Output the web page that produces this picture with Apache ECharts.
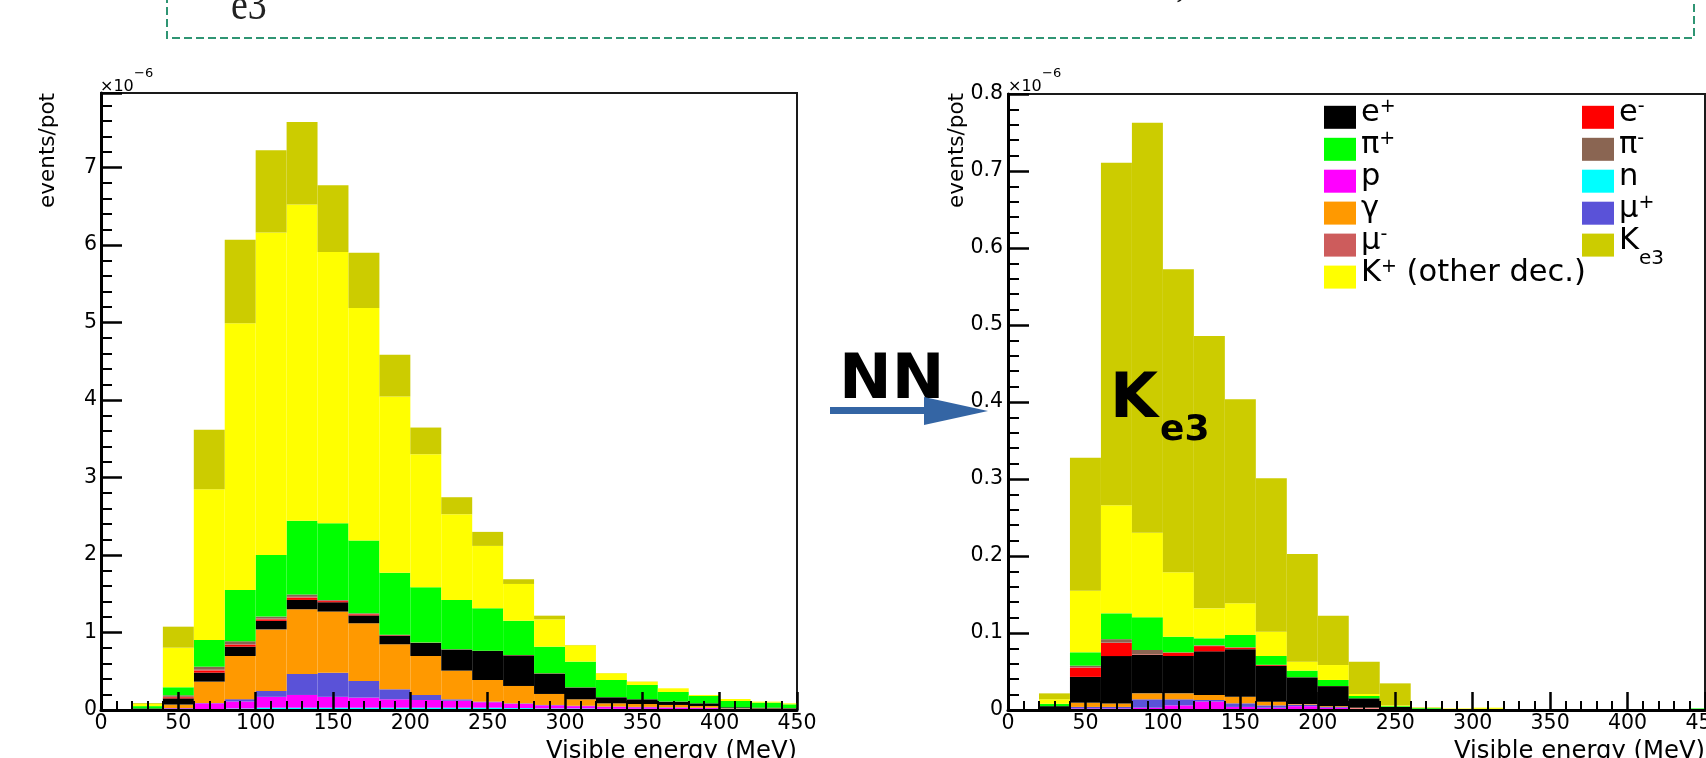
<!DOCTYPE html>
<html lang="en">
<head>
<meta charset="UTF-8">
<title>Visible energy before / after NN</title>
<script src="https://cdn.jsdelivr.net/npm/echarts@6/dist/echarts.min.js"></script>
</head>
<body style="margin:0;background:#fff">
<div id="main" style="width:1706px;height:758px"></div>
<script>
// histogram bins: low edge in MeV, 20 MeV wide (last bin is cut at 450)
var binLow = [0, 20, 40, 60, 80, 100, 120, 140, 160, 180, 200, 220, 240, 260, 280, 300, 320, 340, 360, 380, 400, 420, 440];
var binWidth = 20;

// stack order, bottom -> top
var species = ['n', 'p', 'μ+', 'γ', 'e+', 'e-', 'μ-', 'π-', 'π+', 'K+ (other dec.)', 'Ke3'];
var colors = ['#00ffff', '#ff00ff', '#5a52d8', '#ff9900', '#000000', '#ff0000', '#cd5c5c', '#8a6552', '#00ff00', '#ffff00', '#cccc00'];

// left plot (before NN), events/pot x 1e-6
var leftN   = [0, .005, .005, .01, .02, .03, .03, .03, .03, .03, .03, .03, .03, .025, .02, .02, .015, .015, .01, .01, .01, .008, .008];
var leftP   = [0, 0, .015, .076, .09, .14, .164, .14, .13, .108, .099, .09, .07, .055, .04, .03, .025, .02, .02, .015, .005, .004, .004];
var leftMuP = [0, 0, .005, .004, .03, .075, .271, .31, .214, .129, .065, .018, .008, .006, .005, .005, .005, .005, .005, .005, .005, .002, .002];
var leftGam = [0, .005, .045, .276, .557, .795, .835, .79, .745, .581, .503, .37, .279, .224, .142, .083, .041, .037, .03, .022, .005, .006, .005];
var leftEp  = [0, .01, .08, .116, .12, .11, .12, .12, .101, .112, .168, .272, .375, .395, .263, .152, .078, .061, .043, .034, .01, .01, .006];
var leftEm  = [0, 0, .015, .028, .023, .02, .03, .015, .015, .005, .003, .001, .002, .002, .002, .001, 0, 0, 0, 0, 0, 0, 0];
var leftMuM = [0, 0, .005, .01, .01, .01, .01, .005, .005, .003, .001, .001, .001, .001, .001, .001, 0, 0, 0, 0, 0, 0, 0];
var leftPiM = [0, 0, .02, .039, .037, .025, .03, .01, .008, .004, .001, .001, .001, .002, .001, .001, .002, .002, .002, .001, 0, 0, 0];
var leftPiP = [0, .03, .103, .345, .662, .795, .95, .99, .938, .8, .714, .637, .546, .443, .343, .331, .221, .183, .122, .094, .081, .065, .048];
var leftKo  = [0, .03, .511, 1.945, 3.441, 4.16, 4.08, 3.5, 2.999, 2.272, 1.716, 1.106, .805, .473, .353, .211, .087, .043, .048, .013, .026, .013, .013];
var leftKe3 = [0, .01, .271, .765, 1.077, 1.06, 1.065, .86, .715, .538, .344, .219, .181, .061, .047, .004, .002, .002, 0, 0, 0, 0, 0];

// right plot (after NN)
var rightN   = [0, .001, .001, .001, .001, .001, .001, .001, .001, .001, .001, .001, .001, .0005, 0, 0, 0, 0, 0, 0, 0, 0, 0];
var rightP   = [0, 0, .001, .001, .002, .005, .01, .003, .002, .004, .002, .001, 0, 0, 0, 0, 0, 0, 0, 0, 0, 0, 0];
var rightMuP = [0, 0, .002, .002, .0109, .0079, .002, .0047, .003, .002, .001, 0, 0, 0, 0, 0, 0, 0, 0, 0, 0, 0, 0];
var rightGam = [0, 0, .0055, .0045, .0077, .0077, .0065, .0086, .0048, .0008, .001, .001, 0, 0, 0, 0, 0, 0, 0, 0, 0, 0, 0];
var rightEp  = [0, .004, .0335, .0615, .0499, .0485, .0567, .0617, .0467, .0346, .026, .0122, .003, .001, 0, 0, 0, 0, 0, 0, 0, 0, 0];
var rightEm  = [0, 0, .012, .017, .0005, .0044, .0068, .002, .001, .0001, .0001, 0, 0, 0, 0, 0, 0, 0, 0, 0, 0, 0, 0];
var rightMuM = [0, 0, .0005, .0005, .0002, .0002, .0005, .0002, .0001, 0, 0, 0, 0, 0, 0, 0, 0, 0, 0, 0, 0, 0, 0];
var rightPiM = [0, 0, .0021, .0045, .0057, .0002, .0005, .0003, .0001, .0001, .0001, 0, 0, 0, 0, 0, 0, 0, 0, 0, 0, 0, 0];
var rightPiP = [0, .003, .0173, .0335, .0424, .0203, .0091, .0159, .0114, .0085, .0078, .003, .001, .001, .001, .0015, 0, 0, 0, 0, 0, 0, .002];
var rightKo  = [0, .006, .0801, .1403, .11, .0836, .0389, .0411, .0316, .0117, .0194, .0026, .001, .0005, .001, .0015, 0, 0, 0, 0, 0, 0, 0];
var rightKe3 = [0, .0076, .1727, .445, .5325, .3935, .3537, .265, .1992, .1398, .0641, .042, .0286, .0005, 0, 0, 0, 0, 0, 0, 0, 0, 0];

var leftValues = [leftN, leftP, leftMuP, leftGam, leftEp, leftEm, leftMuM, leftPiM, leftPiP, leftKo, leftKe3];
var rightValues = [rightN, rightP, rightMuP, rightGam, rightEp, rightEm, rightMuM, rightPiM, rightPiP, rightKo, rightKe3];

// legend columns (ROOT fills the 2-column legend row by row)
var legendCol1 = ['e+', 'π+', 'p', 'γ', 'μ-', 'K+ (other dec.)'];
var legendCol2 = ['e-', 'π-', 'n', 'μ+', 'Ke3'];
var legendText = {
  'e+': '{t|e}{u|+}', 'e-': '{t|e}{u|-}',
  'π+': '{t|π}{u|+}', 'π-': '{t|π}{u|-}',
  'p': '{t|p}', 'n': '{t|n}', 'γ': '{t|γ}',
  'μ+': '{t|μ}{u|+}', 'μ-': '{t|μ}{u|-}',
  'Ke3': '{t|K}{d|e3}',
  'K+ (other dec.)': '{t|K}{u|+}{t| (other dec.)}'
};

var FONT = 'DejaVu Sans';
var chart = echarts.init(document.getElementById('main'));

function renderBin(params, api) {
  var a = api.coord([api.value(0), api.value(3)]);
  var b = api.coord([api.value(1), api.value(2)]);
  var cs = params.coordSys;
  var rect = echarts.graphic.clipRectByRect(
    { x: a[0], y: a[1], width: b[0] - a[0], height: b[1] - a[1] },
    { x: cs.x, y: cs.y, width: cs.width, height: cs.height });
  return rect && { type: 'rect', shape: rect, style: api.style({ stroke: null }) };
}

function stackSeries(values, idx) {
  var base = binLow.map(function () { return 0; });
  return species.map(function (name, k) {
    var data = [];
    values[k].forEach(function (v, i) {
      if (v > 0) data.push([binLow[i], binLow[i] + binWidth, base[i], base[i] + v]);
      base[i] += v;
    });
    return {
      type: 'custom', name: name, xAxisIndex: idx, yAxisIndex: idx,
      renderItem: renderBin, encode: { x: [0, 1], y: [2, 3] },
      itemStyle: { color: colors[k] }, data: data, z: 2
    };
  });
}

function xAxisFor(idx) {
  return {
    type: 'value', gridIndex: idx, min: 0, max: 450, interval: 50, z: 10,
    axisLine: { show: true, onZero: false, lineStyle: { color: '#000', width: 3 } },
    axisTick: { show: true, inside: true, length: 18, lineStyle: { color: '#000', width: 2.5 } },
    minorTick: { show: true, splitNumber: 5, length: 9, lineStyle: { color: '#000', width: 2 } },
    axisLabel: { color: '#000', fontSize: 20.5, fontFamily: FONT, margin: 3 },
    splitLine: { show: false }, minorSplitLine: { show: false }
  };
}

function yAxisFor(idx, max, interval, margin) {
  return {
    type: 'value', gridIndex: idx, min: 0, max: max, interval: interval, z: 10,
    axisLine: { show: true, onZero: false, lineStyle: { color: '#000', width: 3 } },
    axisTick: { show: true, inside: true, length: 21, lineStyle: { color: '#000', width: 2.5 } },
    minorTick: { show: true, splitNumber: 5, length: 11, lineStyle: { color: '#000', width: 2 } },
    axisLabel: { color: '#000', fontSize: 20.5, fontFamily: FONT, margin: margin, showMaxLabel: max === 0.8 },
    splitLine: { show: false }, minorSplitLine: { show: false }
  };
}

var legendStyle = {
  color: '#000', fontFamily: FONT, fontSize: 30.5, lineHeight: 30.8,
  rich: {
    t: { color: '#000', fontFamily: FONT, fontSize: 30.5, height: 22.2, lineHeight: 30.8, verticalAlign: 'top' },
    u: { color: '#000', fontFamily: FONT, fontSize: 19, height: 10, lineHeight: 30.8, verticalAlign: 'top' },
    d: { color: '#000', fontFamily: FONT, fontSize: 20, height: 58.6, lineHeight: 30.8, verticalAlign: 'top' }
  }
};

function legendFor(left, names) {
  return {
    left: left, top: 92.4, orient: 'vertical', itemGap: -3.3, itemWidth: 32, itemHeight: 23,
    icon: 'rect', selectedMode: false, data: names,
    formatter: function (name) { return legendText[name]; },
    textStyle: legendStyle
  };
}

function txt(x, y, text, size, extra) {
  var style = { text: text, fontSize: size, fontFamily: FONT, fill: '#000', align: 'left', verticalAlign: 'middle' };
  for (var k in extra) style[k] = extra[k];
  return { type: 'text', x: x, y: y, z: 100, style: style };
}

var gridBox = { show: true, borderColor: '#1a1a1a', borderWidth: 2, backgroundColor: 'transparent', outerBoundsMode: 'none', containLabel: false };

var option = {
  animation: false,
  backgroundColor: '#fff',
  textStyle: { fontFamily: FONT },
  grid: [
    Object.assign({ left: 101, top: 93, width: 696, height: 617 }, gridBox),
    Object.assign({ left: 1008, top: 94, width: 697, height: 616 }, gridBox)
  ],
  xAxis: [xAxisFor(0), xAxisFor(1)],
  yAxis: [yAxisFor(0, 7.96, 1, 4), yAxisFor(1, 0.8, 0.1, 5)],
  legend: [legendFor(1319, legendCol1), legendFor(1577, legendCol2)],
  graphic: [
    // dashed frame of the slide box above
    { type: 'polyline', z: 100, shape: { points: [[167, -5], [167, 38], [1694, 38], [1694, -5]] },
      style: { stroke: '#2f9573', lineWidth: 2, lineDash: [8, 4], fill: null } },
    { type: 'text', x: 231, y: 7, scaleX: 0.86, z: 100,
      style: { text: 'e3', fontSize: 44, fontFamily: 'Liberation Serif', fill: '#222', align: 'left', verticalAlign: 'middle' } },
    txt(1176, -14.5, ',', 40, { fontFamily: 'Liberation Serif' }),
    // axis decorations
    txt(100, 86.5, '×10', 16),
    txt(134, 73.8, '−6', 13),
    txt(1008, 86.5, '×10', 16),
    txt(1042, 73.8, '−6', 13),
    { type: 'text', x: 48, y: 93, rotation: Math.PI / 2, z: 100,
      style: { text: 'events/pot', fontSize: 21.5, fontFamily: FONT, fill: '#000', align: 'right', verticalAlign: 'middle' } },
    { type: 'text', x: 957, y: 93, rotation: Math.PI / 2, z: 100,
      style: { text: 'events/pot', fontSize: 21.5, fontFamily: FONT, fill: '#000', align: 'right', verticalAlign: 'middle' } },
    txt(797, 751.3, 'Visible energy (MeV)', 24.3, { align: 'right' }),
    txt(1705, 751.3, 'Visible energy (MeV)', 24.3, { align: 'right' }),
    // NN arrow
    txt(839, 381.2, 'NN', 63, { fontWeight: 'bold' }),
    { type: 'line', z: 100, shape: { x1: 830, y1: 410.5, x2: 930, y2: 410.5 }, style: { stroke: '#3465a4', lineWidth: 7 } },
    { type: 'polygon', z: 100, shape: { points: [[924, 397], [988, 411], [924, 425]] }, style: { fill: '#3465a4' } },
    // K_e3 label
    txt(1110, 400.5, 'K', 62, { fontWeight: 'bold' }),
    txt(1160, 430.5, 'e3', 36, { fontWeight: 'bold' })
  ],
  series: stackSeries(leftValues, 0).concat(stackSeries(rightValues, 1))
};

chart.setOption(option);
</script>
</body>
</html>
